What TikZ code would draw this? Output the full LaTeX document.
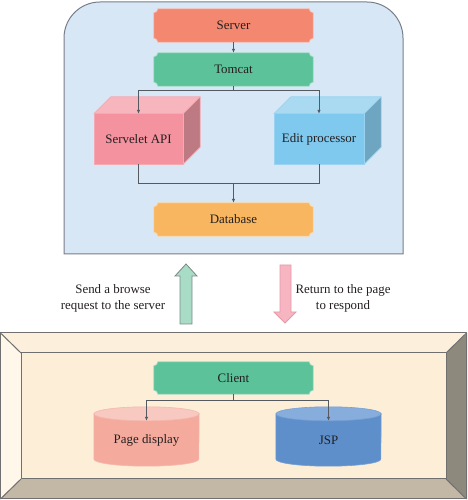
\documentclass[tikz,border=0pt]{standalone}
\usepackage{fontspec}
\setmainfont{Liberation Serif}
\usetikzlibrary{arrows.meta}
\pgfdeclarelayer{bgzero}
\pgfdeclarelayer{bgone}
\pgfsetlayers{bgzero,bgone,main}
\definecolor{textc}{HTML}{231F20}
\definecolor{linec}{HTML}{555A60}
\definecolor{panelc}{HTML}{D8E7F5}
\definecolor{paneld}{HTML}{787E88}
\definecolor{serverc}{HTML}{F4876F}
\definecolor{tomcatc}{HTML}{5CC29A}
\definecolor{dbc}{HTML}{F8B660}
\definecolor{sfront}{HTML}{F4939F}
\definecolor{stop}{HTML}{F7B6BD}
\definecolor{sside}{HTML}{BE7A83}
\definecolor{efront}{HTML}{7FC8EE}
\definecolor{etop}{HTML}{A9DAF2}
\definecolor{eside}{HTML}{6EA6C1}
\definecolor{ftop}{HTML}{FCF0DC}
\definecolor{fleft}{HTML}{FEF7EA}
\definecolor{fright}{HTML}{8D897C}
\definecolor{fbottom}{HTML}{C3B7A6}
\definecolor{finner}{HTML}{FDEED7}
\definecolor{fline}{HTML}{707070}
\definecolor{pdbody}{HTML}{F4AB9E}
\definecolor{pdtop}{HTML}{F7C9C0}
\definecolor{jspbody}{HTML}{5E8FCB}
\definecolor{jsptop}{HTML}{87ADDC}
\definecolor{upc}{HTML}{A9DCC6}
\definecolor{upd}{HTML}{7A8A84}
\definecolor{downc}{HTML}{F6B5C0}
\definecolor{downd}{HTML}{E49AA8}
\newcommand\plaquepath[1]{([xshift=4pt]#1.north west) -- ([xshift=-4pt]#1.north east) .. controls ([xshift=-4pt,yshift=-2.2pt]#1.north east) and ([xshift=-2.2pt,yshift=-4pt]#1.north east) .. ([yshift=-4pt]#1.north east) -- ([yshift=4pt]#1.south east) .. controls ([xshift=-2.2pt,yshift=4pt]#1.south east) and ([xshift=-4pt,yshift=2.2pt]#1.south east) .. ([xshift=-4pt]#1.south east) -- ([xshift=4pt]#1.south west) .. controls ([xshift=4pt,yshift=2.2pt]#1.south west) and ([xshift=2.2pt,yshift=4pt]#1.south west) .. ([yshift=4pt]#1.south west) -- ([yshift=-4pt]#1.north west) .. controls ([xshift=2.2pt,yshift=-4pt]#1.north west) and ([xshift=4pt,yshift=-2.2pt]#1.north west) .. ([xshift=4pt]#1.north west) -- cycle}
\begin{document}
\begin{tikzpicture}[x=1pt,y=1pt,
  txt/.style={font=\fontsize{12.9}{16}\selectfont, text=textc},
  box/.style={txt, minimum width=159pt, minimum height=33pt, inner sep=0pt},
  cube/.style={txt, minimum width=89pt, minimum height=50pt, inner sep=0pt},
  cyl/.style={txt, minimum width=105pt, minimum height=52pt, inner sep=0pt},
  line/.style={draw=linec, line width=0.9pt},
  conn/.style={line, -{Latex[length=4pt,width=3.5pt]}},
  frame/.style={draw=fline, line width=1pt, line join=round},
]
\useasboundingbox (0,0) rectangle (467,500);

% server panel
\begin{pgfonlayer}{bgzero}
\draw[fill=panelc, draw=paneld, line width=1pt]
  (64,246) -- (64,462) arc[start angle=180, end angle=90, radius=36]
  -- (367,498) arc[start angle=90, end angle=0, radius=36] -- (403,246) -- cycle;
% client frame
\fill[ftop] (0,167) -- (467,167) -- (446,147) -- (21,147) -- cycle;
\fill[fleft] (0,167) -- (21,147) -- (21,21) -- (0,1) -- cycle;
\fill[fbottom] (0,1) -- (21,21) -- (446,21) -- (467,1) -- cycle;
\fill[fright] (467,167) -- (446,147) -- (446,21) -- (467,1) -- cycle;
\fill[finner] (21,21) rectangle (446,147);
\draw[frame] (0.5,1) rectangle (466.5,167);
\draw[frame] (21,21) rectangle (446,147);
\draw[frame] (0.5,167) -- (21,147) (466.5,167) -- (446,147) (0.5,1) -- (21,21) (466.5,1) -- (446,21);
\end{pgfonlayer}

% nodes
\node[box] (server) at (233.5,474.5) {Server};
\node[box] (tomcat) at (233.5,430.5) {Tomcat};
\node[cube] (ser) at (138.5,361) {Servelet API};
\node[cube, minimum width=90pt] (edt) at (319,361) {Edit processor};
\node[box] (db) at (233.5,280.5) {Database};
\node[box, minimum height=32pt] (client) at (233.5,122) {Client};
\node[cyl] (pd) at (146.5,60) {Page display};
\node[cyl] (jsp) at (328.5,60) {JSP};

\node[txt, align=center] (sendlbl) at (113,202) {Send a browse\\request to the server};
\node[txt, align=center] (retlbl) at (343,202) {Return to the page\\to respond};

\begin{pgfonlayer}{bgone}
\draw[fill=serverc, draw=serverc!55!white, line width=0.7pt] \plaquepath{server};
\draw[fill=tomcatc, draw=tomcatc!55!white, line width=0.7pt] \plaquepath{tomcat};
\draw[fill=dbc, draw=dbc!55!white, line width=0.7pt] \plaquepath{db};
\draw[fill=tomcatc, draw=tomcatc!55!white, line width=0.7pt] \plaquepath{client};
% cubes
\foreach \n/\f/\t/\s in {ser/sfront/stop/sside, edt/efront/etop/eside}{
  \draw[fill=\t, draw=\f!80!white, line width=0.6pt, line join=round]
    (\n.north west) -- (\n.north east) -- ([xshift=17pt,yshift=17pt]\n.north east) -- ([xshift=17pt,yshift=17pt]\n.north west) -- cycle;
  \draw[fill=\s, draw=\f!80!white, line width=0.6pt, line join=round]
    (\n.north east) -- ([xshift=17pt,yshift=17pt]\n.north east) -- ([xshift=17pt,yshift=17pt]\n.south east) -- (\n.south east) -- cycle;
  \draw[fill=\f, draw=\f!80!white, line width=0.6pt] (\n.south west) rectangle (\n.north east);
}
% cylinders
\foreach \n/\b/\t in {pd/pdbody/pdtop, jsp/jspbody/jsptop}{
  \draw[fill=\b, draw=\b!85!white, line width=0.6pt]
    (\n.north west) -- ([yshift=7pt]\n.south west)
    arc[start angle=180, end angle=360, x radius=52.5, y radius=7]
    -- (\n.north east) -- cycle;
  \draw[fill=\t, draw=\b!85!white, line width=0.6pt] (\n.north) ellipse[x radius=52.5, y radius=7];
}
\end{pgfonlayer}

% block arrows
\draw[fill=upc, draw=upd, line width=0.8pt, line join=miter]
  (186,236) -- (197,224) -- (192,224) -- (192,176) -- (180,176) -- (180,224) -- (175,224) -- cycle;
\draw[fill=downc, draw=downd, line width=0.8pt, line join=miter]
  (285,177) -- (296,188) -- (291,188) -- (291,235) -- (280,235) -- (280,188) -- (274,188) -- cycle;

% connectors
\draw[conn] (server.south) -- (tomcat.north);
\coordinate (tj) at ([yshift=-4pt]tomcat.south);
\draw[line] (tomcat.south) -- (tj);
\draw[conn] (tj) -| (ser.north);
\draw[conn] (tj) -| (edt.north);
\coordinate (bj) at ([yshift=-19pt]ser.south -| db.north);
\draw[line] (ser.south) |- (bj);
\draw[line] (edt.south) |- (bj);
\draw[conn] (bj) -- (db.north);
\coordinate (cj) at ([yshift=-6pt]client.south);
\coordinate (pdt) at ([yshift=-7pt]pd.north);
\coordinate (jspt) at ([yshift=-7pt]jsp.north);
\draw[line] (client.south) -- (cj);
\draw[conn] (cj) -| (pdt);
\draw[conn] (cj) -| (jspt);
\end{tikzpicture}
\end{document}
